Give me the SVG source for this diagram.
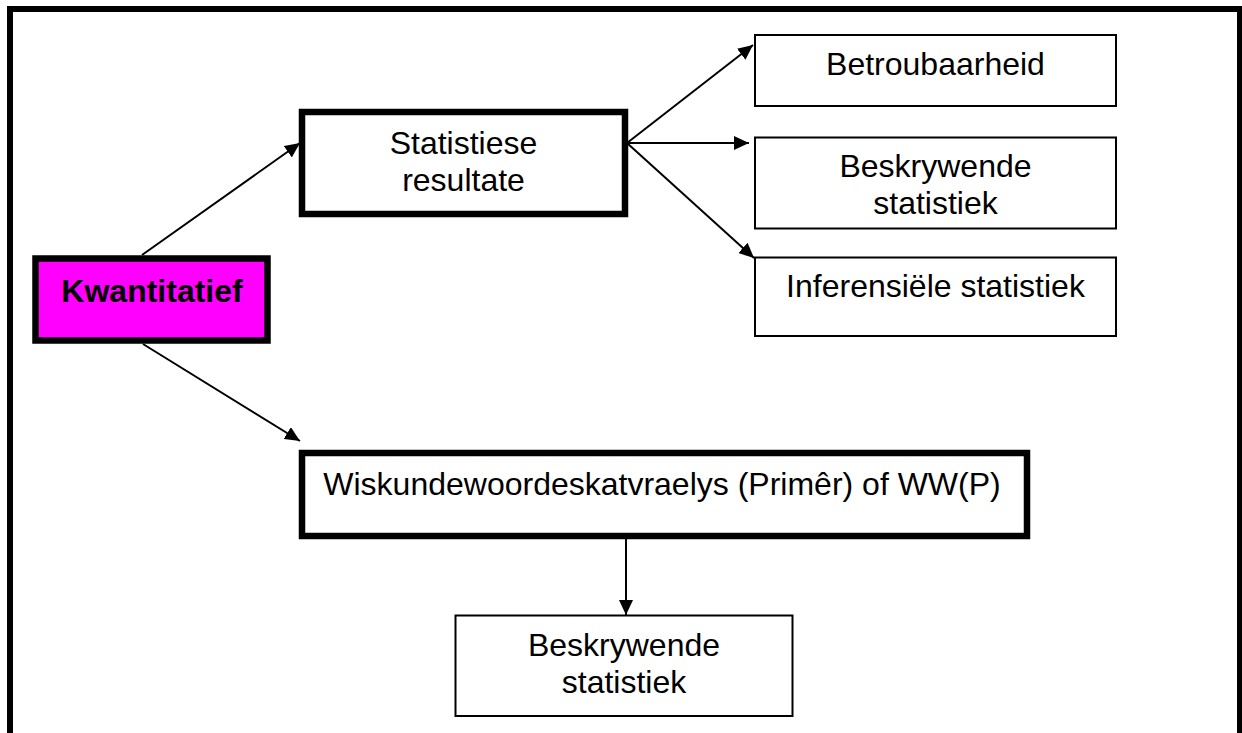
<svg xmlns="http://www.w3.org/2000/svg" width="1242" height="733" viewBox="0 0 1242 733">
  <style>
    .frame { fill: none; stroke: #000; stroke-width: 6; }
    .thick { fill: #fff; stroke: #000; stroke-width: 6.5; }
    .thin { fill: #fff; stroke: #000; stroke-width: 2; }
    .magenta { fill: #ff00ff; stroke: #000; stroke-width: 6.5; }
    .label { font-family: "Liberation Sans", Arial, sans-serif; font-size: 32px; fill: #000; text-anchor: middle; }
    .bold { font-weight: bold; }
    .edge { fill: none; stroke: #000; stroke-width: 2; marker-end: url(#arrow); }
  </style>
  <defs>
    <marker id="arrow" markerUnits="userSpaceOnUse" markerWidth="16" markerHeight="14" refX="15" refY="7" orient="auto">
      <path d="M0,0 L15,7 L0,14 Z" fill="#000"/>
    </marker>
  </defs>

  <rect width="1242" height="733" fill="#fff"/>

  <!-- page frame, open at the bottom -->
  <path class="frame" d="M10,733 L10,9 L1240,9 L1240,733"/>

  <g id="connectors">
    <line class="edge" x1="142" y1="255" x2="300" y2="143"/>
    <line class="edge" x1="143" y1="344" x2="300" y2="441"/>
    <line class="edge" x1="627" y1="143" x2="753" y2="45"/>
    <line class="edge" x1="627" y1="143" x2="749" y2="143"/>
    <line class="edge" x1="627" y1="143" x2="754" y2="258"/>
    <line class="edge" x1="626" y1="539" x2="626" y2="615"/>
  </g>

  <g id="kwantitatief">
    <rect class="magenta" x="35.5" y="258.5" width="232" height="82"/>
    <text class="label bold" x="152" y="302">Kwantitatief</text>
  </g>

  <g id="statistiese-resultate">
    <rect class="thick" x="302" y="112" width="323" height="102"/>
    <text class="label" x="463.5" y="154">Statistiese</text>
    <text class="label" x="463.5" y="190.5">resultate</text>
  </g>

  <g id="betroubaarheid">
    <rect class="thin" x="755" y="35" width="361" height="71"/>
    <text class="label" x="935.5" y="75">Betroubaarheid</text>
  </g>

  <g id="beskrywende-statistiek-1">
    <rect class="thin" x="755" y="137.5" width="361" height="91"/>
    <text class="label" x="935.5" y="177">Beskrywende</text>
    <text class="label" x="935.5" y="213.5">statistiek</text>
  </g>

  <g id="inferensiele-statistiek">
    <rect class="thin" x="755" y="257.5" width="361" height="78.5"/>
    <text class="label" x="935.5" y="297">Inferensiële statistiek</text>
  </g>

  <g id="wiskundewoordeskatvraelys">
    <rect class="thick" x="302" y="453" width="725" height="83"/>
    <text class="label" x="662" y="495">Wiskundewoordeskatvraelys (Primêr) of WW(P)</text>
  </g>

  <g id="beskrywende-statistiek-2">
    <rect class="thin" x="455.5" y="615.5" width="337" height="100.5"/>
    <text class="label" x="624" y="656">Beskrywende</text>
    <text class="label" x="624" y="692.5">statistiek</text>
  </g>
</svg>
